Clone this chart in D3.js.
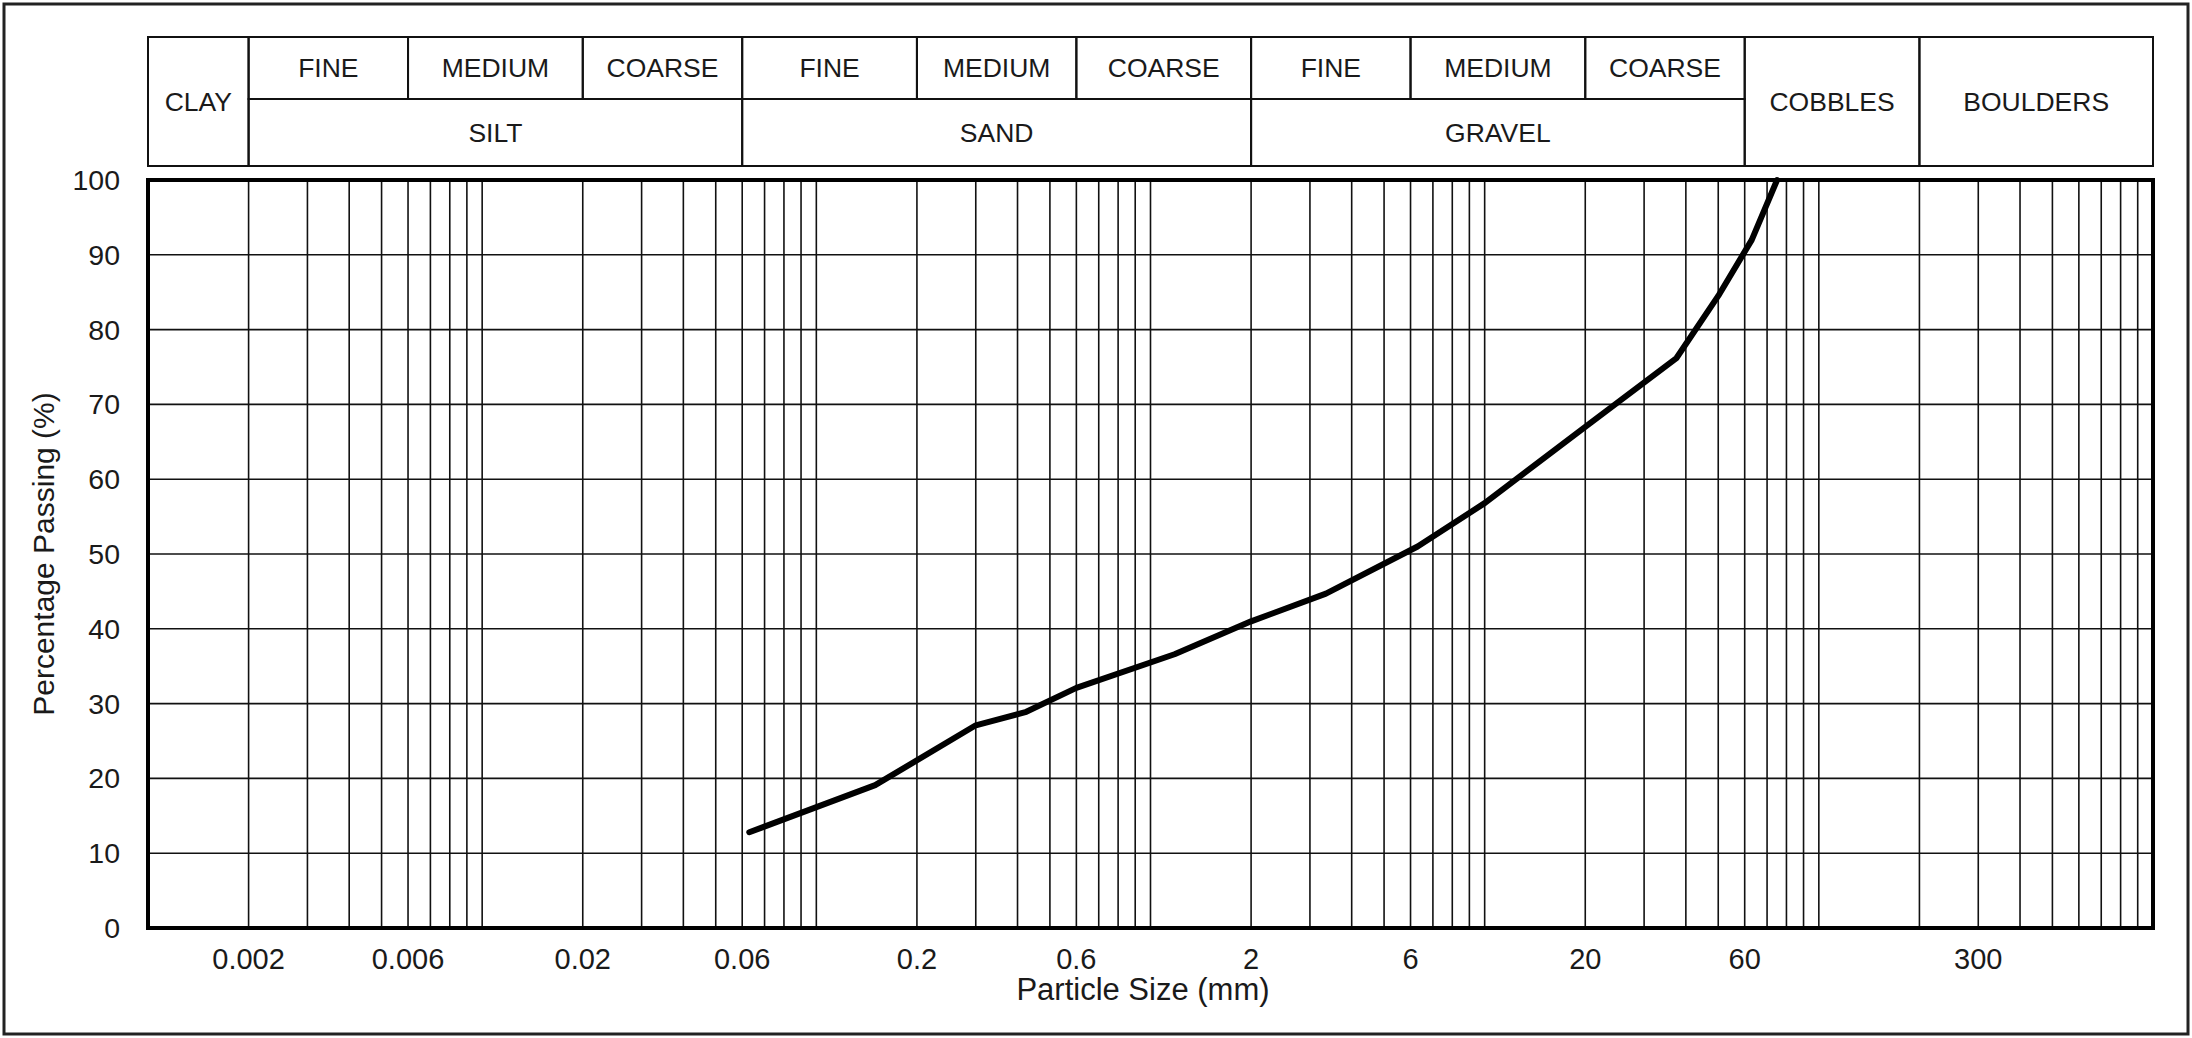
<!DOCTYPE html>
<html>
<head>
<meta charset="utf-8">
<script src="https://cdn.jsdelivr.net/npm/d3@7"></script>
<style>
    body { margin: 0; background: #fff; }
    svg { display: block; font-family: Arial, "Liberation Sans", sans-serif; }
</style>
</head>
<body>
<div class="granulometria"></div>
<script>
// curva granulometrica (tamaño en mm, % que pasa)
const tamanos = [0.063, 0.15, 0.3, 0.425, 0.6, 1.18, 2, 3.35, 6.3, 10, 20, 37.5, 50, 63, 75];
const pasa = [12.8, 19.1, 27.1, 28.9, 32.1, 36.6, 41, 44.7, 51, 56.8, 67, 76.2, 84.5, 92, 100];

// etiquetas de los ejes
const xEtiquetas = [0.002, 0.006, 0.02, 0.06, 0.2, 0.6, 2, 6, 20, 60, 300];
const yEtiquetas = [0, 10, 20, 30, 40, 50, 60, 70, 80, 90, 100];

// cabecera de clasificacion
const fraccionLimites = [0.001, 0.002, 0.006, 0.02, 0.06, 0.2, 0.6, 2, 6, 20, 60, 200, 1000];
const fraccionNombres = ['CLAY', 'FINE', 'MEDIUM', 'COARSE', 'FINE', 'MEDIUM', 'COARSE',
    'FINE', 'MEDIUM', 'COARSE', 'COBBLES', 'BOULDERS'];
const grupoNombres = ['SILT', 'SAND', 'GRAVEL'];
const grupoLimites = [0.002, 0.06, 2, 60];

const ancho = 2192,
    alto = 1038;

const margen = { left: 148, right: 2153, top: 180, bottom: 928 };
const cab = { top: 37, mid: 99, bottom: 166 };

const svg = d3.select('.granulometria').append('svg')
    .attr('width', ancho)
    .attr('height', alto);

const x = d3.scaleLog()
    .domain([0.001, 1000])
    .range([margen.left, margen.right]);

const y = d3.scaleLinear()
    .domain([0, 100])
    .range([margen.bottom, margen.top]);

// marco exterior
svg.append('rect')
    .attr('x', 4).attr('y', 4)
    .attr('width', ancho - 8).attr('height', alto - 8)
    .attr('fill', 'none')
    .attr('stroke', '#222')
    .attr('stroke-width', 3);

// cabecera
const cabecera = svg.append('g').attr('class', 'cabecera');

const enGrupo = v => v >= grupoLimites[0] && v < grupoLimites[grupoLimites.length - 1];

fraccionNombres.forEach((nombre, i) => {
    const x0 = x(fraccionLimites[i]),
        x1 = x(fraccionLimites[i + 1]);
    const completo = !enGrupo(fraccionLimites[i]);
    const y0 = cab.top,
        y1 = completo ? cab.bottom : cab.mid;
    cabecera.append('rect')
        .attr('x', x0).attr('y', y0)
        .attr('width', x1 - x0).attr('height', y1 - y0)
        .attr('fill', 'none')
        .attr('stroke', '#111')
        .attr('stroke-width', 2);
    cabecera.append('text')
        .attr('x', (x0 + x1) / 2)
        .attr('y', (y0 + y1) / 2)
        .attr('text-anchor', 'middle')
        .attr('dominant-baseline', 'central')
        .attr('font-size', 26.5)
        .attr('fill', '#1a1a1a')
        .text(nombre);
});

grupoNombres.forEach((nombre, i) => {
    const x0 = x(grupoLimites[i]),
        x1 = x(grupoLimites[i + 1]);
    cabecera.append('rect')
        .attr('x', x0).attr('y', cab.mid)
        .attr('width', x1 - x0).attr('height', cab.bottom - cab.mid)
        .attr('fill', 'none')
        .attr('stroke', '#111')
        .attr('stroke-width', 2);
    cabecera.append('text')
        .attr('x', (x0 + x1) / 2)
        .attr('y', (cab.mid + cab.bottom) / 2)
        .attr('text-anchor', 'middle')
        .attr('dominant-baseline', 'central')
        .attr('font-size', 26.5)
        .attr('fill', '#1a1a1a')
        .text(nombre);
});

// rejilla
const rejilla = svg.append('g').attr('class', 'rejilla')
    .attr('stroke', '#111')
    .attr('stroke-width', 1.6);

rejilla.selectAll('line.v')
    .data(x.ticks().filter(d => d > 0.001 && d < 1000))
    .enter().append('line')
    .attr('class', 'v')
    .attr('x1', d => x(d)).attr('x2', d => x(d))
    .attr('y1', margen.top).attr('y2', margen.bottom);

rejilla.selectAll('line.h')
    .data(yEtiquetas.filter(d => d > 0 && d < 100))
    .enter().append('line')
    .attr('class', 'h')
    .attr('x1', margen.left).attr('x2', margen.right)
    .attr('y1', d => y(d)).attr('y2', d => y(d));

// borde del grafico
svg.append('rect')
    .attr('x', margen.left).attr('y', margen.top)
    .attr('width', margen.right - margen.left)
    .attr('height', margen.bottom - margen.top)
    .attr('fill', 'none')
    .attr('stroke', '#000')
    .attr('stroke-width', 4);

// etiquetas eje y
svg.append('g')
    .selectAll('text')
    .data(yEtiquetas)
    .enter().append('text')
    .attr('x', 120)
    .attr('y', d => y(d))
    .attr('text-anchor', 'end')
    .attr('dominant-baseline', 'central')
    .attr('font-size', 28.5)
    .attr('fill', '#1a1a1a')
    .text(d => d);

// etiquetas eje x
svg.append('g')
    .selectAll('text')
    .data(xEtiquetas)
    .enter().append('text')
    .attr('x', d => x(d))
    .attr('y', 969)
    .attr('text-anchor', 'middle')
    .attr('font-size', 29)
    .attr('fill', '#1a1a1a')
    .text(d => d);

// titulos
svg.append('text')
    .attr('x', 1143)
    .attr('y', 1000)
    .attr('text-anchor', 'middle')
    .attr('font-size', 31)
    .attr('fill', '#1a1a1a')
    .text('Particle Size (mm)');

svg.append('text')
    .attr('transform', 'translate(43,' + (margen.top + margen.bottom) / 2 + ') rotate(-90)')
    .attr('text-anchor', 'middle')
    .attr('dominant-baseline', 'central')
    .attr('font-size', 30)
    .attr('fill', '#1a1a1a')
    .text('Percentage Passing (%)');

// curva
const datos = tamanos.map((t, i) => [t, pasa[i]]);

const linea = d3.line()
    .x(d => x(d[0]))
    .y(d => y(d[1]));

svg.append('path')
    .datum(datos)
    .attr('d', linea)
    .attr('fill', 'none')
    .attr('stroke', '#000')
    .attr('stroke-width', 6)
    .attr('stroke-linejoin', 'round')
    .attr('stroke-linecap', 'round');
</script>
</body>
</html>
